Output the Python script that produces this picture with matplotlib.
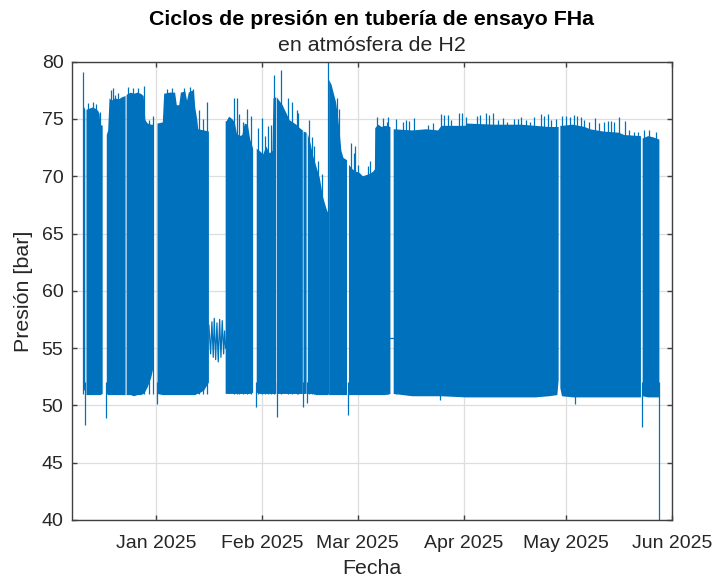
import numpy as np
import matplotlib
matplotlib.use('Agg')
import matplotlib.pyplot as plt
import matplotlib.dates as mdates

# colors
matlab_blue = '#0072BD'
grid_gray = '#dedede'
axis_gray = '#404040'
text_dark = '#262626'

plt.rcParams['font.family'] = ['Liberation Sans', 'DejaVu Sans']

# all times are days since 2024-12-01
t0 = mdates.date2num(np.datetime64('2024-12-01'))
nan = np.nan

# envelope of the pressure cycles (max / min per stretch), NaN = no data
band_days = [9.6, 10.2, nan,
             10.55, 11.5, 12.3, 13.2, 14.0, 14.4, 14.6, 15.3, nan,
             16.5, 16.9, 17.3, 18.0, 19.0, 20.0, 21.0, 22.0, nan,
             22.3, 23.5, 24.5, 25.5, 26.5, 27.3, 27.8, 28.5, 29.5, 30.1, nan,
             31.35, 32.9, 33.3, 35.0, 36.5, 37.0, 37.7, 38.2, 39.5, 40.0, 40.5, 41.0, 42.0, 42.4, 43.0, 43.3, 45.0, 46.4, nan,
             51.3, 51.6, 52.3, 53.2, 54.0, 54.6, 55.5, 56.2, 56.9, 57.8, 58.5, 59.35, nan,
             60.4, 61.3, 62.3, 63.2, 64.2, 65.0, 65.3, 66.1, nan,
             66.3, 67.0, 68.0, 68.6, 69.1, 70.0, 71.0, 72.0, 73.0, 73.9, nan,
             74.1, 75.0, nan,
             75.35, 76.2, 76.9, 77.9, 78.9, 79.8, 80.5, 81.0, 81.35, nan,
             81.6, 82.3, 82.9, 83.6, 84.2, 84.7, 85.2, 85.8, 86.85, nan,
             87.4, 88.5, 89.5, 90.5, 91.5, 92.5, 93.5, 94.5, 95.0, 95.1, 96.0, 97.0, 98.0, 99.55, nan,
             100.5, 106.0, 110.0, 113.5, 114.5, 121.5, 122.0, 130.0, 138.0, 142.0, 146.0, 148.4, 148.8, nan,
             149.3, 149.8, 153.0, 156.5, 158.0, 162.0, 166.5, 168.0, 172.9, nan,
             173.4, 175.0, 176.5, 178.3]
band_max = [76.2, 75.8, nan,
            75.8, 75.9, 76.0, 75.9, 75.7, 75.4, 74.5, 74.4, nan,
            73.6, 74.0, 76.8, 76.6, 76.8, 76.7, 76.9, 77.0, nan,
            77.1, 77.3, 77.2, 77.3, 77.2, 77.0, 74.9, 74.6, 74.5, 74.5, nan,
            74.6, 74.7, 77.2, 77.3, 77.3, 76.2, 76.2, 77.3, 77.4, 76.6, 77.3, 77.4, 77.5, 76.0, 74.9, 74.1, 74.0, 73.9, nan,
            74.8, 74.8, 75.2, 75.0, 74.7, 73.7, 73.5, 73.6, 74.6, 74.5, 73.2, 72.4, nan,
            72.4, 72.2, 71.9, 72.6, 72.0, 72.2, 76.8, 76.9, nan,
            76.9, 76.6, 76.2, 75.8, 75.5, 74.9, 74.7, 74.5, 74.2, 74.0, nan,
            73.9, 73.8, nan,
            73.7, 72.8, 71.8, 70.8, 69.8, 68.2, 67.5, 67.0, 66.8, nan,
            78.4, 78.0, 77.3, 76.5, 75.2, 73.8, 72.2, 71.6, 71.4, nan,
            71.0, 70.6, 70.4, 70.3, 70.0, 70.1, 70.2, 70.4, 70.6, 74.2, 74.5, 74.3, 74.4, 74.3, nan,
            74.1, 74.0, 74.1, 74.0, 74.4, 74.4, 74.6, 74.5, 74.5, 74.4, 74.3, 74.3, 74.3, nan,
            74.4, 74.4, 74.5, 74.3, 74.1, 73.9, 73.8, 73.6, 73.5, nan,
            73.3, 73.5, 73.4, 73.2]
band_min = [51.5, 51.2, nan,
            50.9, 50.9, 50.9, 50.9, 50.9, 50.9, 50.9, 51.0, nan,
            51.0, 50.9, 50.9, 50.9, 50.9, 50.9, 50.9, 50.9, nan,
            50.9, 50.9, 50.8, 50.9, 50.9, 51.0, 51.2, 51.6, 52.4, 53.2, nan,
            51.0, 50.9, 50.9, 50.9, 50.9, 50.9, 50.9, 50.9, 50.9, 50.9, 50.9, 50.9, 50.9, 50.9, 51.0, 51.0, 51.3, 52.0, nan,
            51.0, 51.0, 51.0, 51.0, 51.0, 51.0, 51.0, 51.0, 51.0, 51.0, 51.0, 51.1, nan,
            51.1, 51.0, 51.0, 51.0, 51.0, 51.0, 51.0, 51.0, nan,
            51.0, 51.0, 51.0, 51.0, 51.0, 51.0, 51.0, 51.0, 51.0, 51.0, nan,
            51.0, 51.0, nan,
            51.0, 51.0, 51.0, 50.9, 50.9, 50.9, 50.9, 50.9, 50.9, nan,
            50.9, 50.9, 50.9, 50.9, 50.9, 50.9, 50.9, 50.9, 50.9, nan,
            50.9, 50.9, 50.9, 50.9, 50.9, 50.9, 50.9, 50.9, 50.9, 50.9, 50.9, 50.9, 50.9, 51.0, nan,
            51.0, 50.8, 50.8, 50.8, 50.8, 50.7, 50.7, 50.7, 50.7, 50.7, 50.8, 50.9, 52.2, nan,
            51.5, 50.8, 50.7, 50.7, 50.7, 50.7, 50.7, 50.7, 50.7, nan,
            50.8, 50.7, 50.7, 50.7]

# single cycles peaking above the envelope
peak_days = [9.6, 11.0, 12.6, 13.4, 14.6,
             17.7, 18.4, 18.9, 19.8, 22.8, 24.3, 25.7, 27.4, 28.9, 29.9,
             34.2, 35.5, 39.0, 41.0, 41.8, 43.6, 44.7, 45.7,
             53.75, 54.7, 55.2, 56.4, 57.6, 58.7,
             60.65, 61.8, 62.8, 63.75, 64.7, 65.4,
             67.4, 69.6, 70.6, 72.05, 72.5,
             75.6, 76.5, 77.3, 78.2, 79.4, 81.4, 83.9, 84.4,
             88.0, 88.8, 89.3, 90.1, 92.9, 93.7,
             95.6, 97.4, 98.4, 98.8,
             101.3, 103.2, 104.2, 105.0, 106.4, 110.5, 112.0, 114.45, 115.1, 116.4, 117.4,
             119.6, 120.6, 121.55, 124.9, 125.9, 127.4, 128.4, 129.7, 131.0, 132.5, 133.6,
             135.6, 136.85, 137.8, 139.1, 140.3, 141.7, 143.7, 144.65, 145.6, 146.6, 147.9,
             149.8, 151.0, 152.0, 153.4, 154.1, 155.4, 156.35, 157.6, 159.3, 160.7, 162.2,
             163.2, 164.2, 164.9, 166.4, 168.3, 169.5, 171.0, 171.9,
             173.9, 175.4, 177.3]
peak_vals = [79.1, 76.4, 76.5, 76.3, 75.6,
             77.5, 77.7, 77.1, 77.3, 77.8, 77.7, 77.7, 77.9, 74.9, 75.3,
             77.6, 77.7, 77.7, 77.8, 77.6, 75.8, 75.0, 76.5,
             76.8, 76.8, 75.4, 74.7, 75.9, 75.3,
             74.2, 75.1, 73.5, 74.4, 74.5, 78.8,
             79.3, 76.8, 76.5, 75.8, 75.5,
             74.9, 73.4, 72.6, 71.3, 70.2, 80.5, 76.8, 75.9,
             72.9, 72.0, 72.6, 71.0, 70.9, 71.3,
             75.2, 75.1, 74.7, 75.2,
             74.98, 74.77, 74.92, 74.86, 75.07, 74.48, 74.63, 75.44, 75.35, 75.35, 74.92,
             75.5, 75.55, 75.15, 75.27, 75.35, 75.5, 75.35, 75.5, 74.92, 75.07, 74.77,
             74.98, 74.98, 75.15, 74.92, 74.7, 75.2, 75.44, 75.27, 75.44, 74.92, 74.98,
             75.27, 75.27, 75.2, 75.35, 75.27, 75.15, 74.92, 74.77, 75.07, 74.63, 74.77,
             74.86, 74.86, 74.77, 75.15, 74.86, 74.0, 73.9, 73.9,
             74.0, 74.0, 73.9]

# pressure drops below the envelope (last one is the final venting)
drop_days = [10.1, 16.4, 31.3, 60.2, 66.2, 74.0, 75.15, 87.2, 114.0, 153.5, 173.2, 178.3]
drop_vals = [48.3, 48.9, 50.1, 49.9, 49.0, 49.9, 50.2, 49.2, 50.5, 50.1, 48.1, 0.0]

# low amplitude cycling while the test was on hold in January
slow_days = [46.4, 46.9, 47.28, 47.67, 47.96, 48.37, 48.75, 49.13, 49.54, 49.92, 50.30, 50.71, 51.0, 51.29]
slow_vals = [57.0, 54.5, 57.3, 54.2, 57.6, 54.0, 57.2, 53.8, 57.5, 54.2, 57.4, 54.5, 56.5, 55.0]

# held pressure across the data gap in early March
hold_days = [99.55, 100.5]
hold_vals = [55.9, 55.9]

fig = plt.figure(figsize=(7.15, 5.77), dpi=100)
ax = fig.add_axes([0.1003, 0.0988, 0.8396, 0.7943])

x_band = t0 + np.array(band_days)
ax.fill_between(x_band, band_min, band_max, color=matlab_blue, linewidth=0)
ax.vlines(t0 + np.array(peak_days), 51.0, peak_vals, color=matlab_blue, linewidth=0.9)
ax.vlines(t0 + np.array(drop_days), drop_vals, 52.0, color=matlab_blue, linewidth=0.9)
ax.plot(t0 + np.array(slow_days), slow_vals, color=matlab_blue, linewidth=0.9)
ax.plot(t0 + np.array(hold_days), hold_vals, color=matlab_blue, linewidth=0.9)

ax.set_xlim(t0 + 6.23, t0 + 182)
ax.set_ylim(40, 80)
ax.set_yticks(np.arange(40, 81, 5))
ax.xaxis.set_major_locator(mdates.MonthLocator())
ax.xaxis.set_major_formatter(mdates.DateFormatter('%b %Y'))

ax.grid(True, color=grid_gray, linewidth=0.9)
ax.set_axisbelow(True)
for side in ['left', 'right', 'top', 'bottom']:
    ax.spines[side].set_color(axis_gray)
    ax.spines[side].set_linewidth(1.0)
ax.tick_params(direction='in', length=3.5, width=1.0, color=axis_gray,
               top=True, right=True, labelsize=14, labelcolor=text_dark, pad=6)
ax.tick_params(axis='x', pad=11)

ax.set_xlabel('Fecha', fontsize=15.4, color=text_dark, labelpad=4.5)
ax.set_ylabel('Presión [bar]', fontsize=15.4, color=text_dark, labelpad=6)

fig.text(0.520, 0.966, 'Ciclos de presión en tubería de ensayo FHa', ha='center', va='center',
         fontsize=15.4, fontweight='bold', color='black')
fig.text(0.520, 0.921, 'en atmósfera de H2', ha='center', va='center',
         fontsize=15.4, color=text_dark)

fig.savefig('out.png', dpi=100)
